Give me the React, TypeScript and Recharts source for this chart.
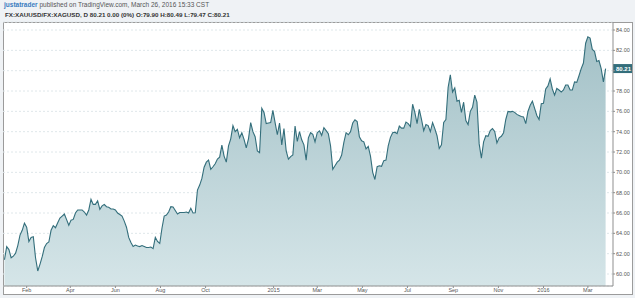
import React from 'react';
import {
  AreaChart,
  Area,
  XAxis,
  YAxis,
  CartesianGrid,
  ReferenceLine
} from 'recharts';

// XAU/XAG ratio, one reading every 3 days from 2 Jan 2014
const ratio2014 = [
  61.4, 62.7, 62.4, 61.6, 61.75, 62.05, 62.8, 63.83, 64.3, 65.0,
  64.6, 63.2, 63.6, 63.67, 61.6, 60.3, 60.95, 61.7, 62.6, 63.0,
  63.15, 64.3, 64.75, 64.55, 65.05, 65.5, 65.7, 65.9, 65.35, 64.8,
  65.3, 65.37, 66.0, 66.3, 66.3, 66.3, 66.1, 65.8, 66.3, 67.35,
  66.85, 66.85, 67.2, 66.36, 66.7, 66.85, 66.62, 66.56, 66.4, 66.4,
  66.3, 66.0, 65.85, 65.7, 65.2, 64.6, 63.6, 63.1, 62.7, 62.85,
  62.75, 62.7, 62.8, 62.7, 62.6, 62.6, 62.65, 62.5, 63.6, 63.2,
  63.0, 64.5, 65.7, 65.8, 66.1, 66.62, 66.6, 66.25, 65.9, 66.05,
  66.05, 66.05, 66.1, 66.0, 66.46, 66.0, 66.03, 68.26, 68.75, 69.4,
  70.5, 71.0, 71.2, 70.3, 70.55, 70.85, 71.3, 71.5, 72.68, 71.6,
  71.0, 72.6, 73.3, 74.6, 74.0, 74.23, 73.4, 73.9, 73.25, 72.4,
  73.3, 74.9, 74.0, 73.5, 72.1, 71.93, 76.3, 75.9, 74.8, 74.85,
  74.9, 76.1
];

const ratio2015 = [
  74.9, 73.7, 74.85, 72.7, 74.3, 72.1, 71.3, 71.55, 71.7, 74.55,
  73.05, 74.0, 73.2, 72.7, 71.2, 73.4, 73.9, 73.75, 73.0, 73.9,
  74.09, 73.64, 74.4, 74.1, 73.8, 72.6, 70.3, 70.65, 71.0, 71.2,
  71.7, 72.95, 73.9, 73.7, 74.0, 74.85, 75.17, 75.0, 73.5, 73.1,
  73.0, 72.3, 72.55, 71.6, 70.0, 69.3, 70.56, 70.65, 70.6, 71.15,
  71.21, 72.6, 73.44, 73.9, 73.95, 73.8, 74.55, 74.35, 74.35, 74.95,
  74.8, 74.5, 76.7, 75.9, 74.8, 76.2, 75.2, 74.1, 74.7, 74.6,
  74.0, 74.9, 74.3, 73.6, 72.35, 72.7, 74.9, 75.2, 78.35, 79.6,
  77.9, 78.3, 77.0, 77.1, 75.9, 76.9, 75.1, 74.7, 76.0, 76.4,
  77.6, 76.9, 72.8, 71.4, 73.0, 73.6, 73.55, 74.1, 74.3, 74.03,
  72.9, 73.4, 73.55, 73.9, 75.2, 76.0, 75.95, 76.0, 75.9, 75.7,
  75.6, 75.5, 75.45, 74.8, 75.99, 76.6, 77.0, 76.3, 75.6, 75.2,
  76.75
];

const ratio2016 = [
  76.8, 78.2, 78.5, 79.2, 78.2, 77.6, 78.25, 78.1, 77.9, 78.1,
  78.6, 78.6, 78.1, 78.1, 78.9, 78.85, 79.5, 80.2, 80.75, 82.7,
  83.33, 83.21, 82.1, 81.9, 80.91, 81.0, 80.2, 78.9, 80.21
];

const lastPrice = 80.21;
const priceTicks = [60, 62, 64, 66, 68, 70, 72, 74, 76, 78, 80, 82, 84];
const timeTickDates = [
  '2014-02-01', '2014-04-01', '2014-06-01', '2014-08-01', '2014-10-01',
  '2015-01-01', '2015-03-01', '2015-05-01', '2015-07-01', '2015-09-01',
  '2015-11-01', '2016-01-01', '2016-03-01'
];
const timeTickLabels = [
  'Feb', 'Apr', 'Jun', 'Aug', 'Oct', '2015', 'Mar', 'May', 'Jul', 'Sep',
  'Nov', '2016', 'Mar'
];

const DAY = 86400000;
const start = Date.UTC(2014, 0, 2);
const stepDays = 3;

const data = [...ratio2014, ...ratio2015, ...ratio2016].map((v, i) => ({
  t: start + i * stepDays * DAY,
  v
}));

const timeTicks = timeTickDates.map((d) => Date.parse(d + 'T00:00:00Z'));
const labelFor = (t: number) => timeTickLabels[timeTicks.indexOf(t)] ?? '';

const font = '"Liberation Sans", Arial, sans-serif';

function PriceTag(props: any) {
  const vb = props.viewBox || {};
  const x = vb.x + vb.width;
  const y = vb.y;
  return (
    <g>
      <rect x={x} y={y - 4.5} width={19} height={9} fill="#336e7b" />
      <text
        x={x + 3}
        y={y}
        dy="0.35em"
        fontSize={6}
        fontWeight="bold"
        fill="#fff"
        fontFamily={font}
      >
        {lastPrice.toFixed(2)}
      </text>
    </g>
  );
}

export default function App() {
  return (
    <div
      style={{
        position: 'absolute',
        left: 0,
        top: 0,
        width: 635,
        height: 298,
        background: '#eff2f5',
        fontFamily: font,
        overflow: 'hidden'
      }}
    >
      <div style={{ position: 'absolute', left: 4, top: 1, fontSize: 6.5, color: '#555', whiteSpace: 'nowrap' }}>
        <span style={{ color: '#3a7cc0', fontWeight: 'bold' }}>justatrader</span> published on
        TradingView.com, March 26, 2016 15:33 CST
      </div>
      <div
        style={{
          position: 'absolute',
          left: 5,
          top: 10.5,
          fontSize: 6.25,
          color: '#333',
          fontWeight: 'bold',
          whiteSpace: 'nowrap'
        }}
      >
        FX:XAUUSD/FX:XAGUSD, D 80.21 0.00 (0%) O:79.90 H:80.49 L:79.47 C:80.21
      </div>
      <div
        style={{
          position: 'absolute',
          left: 3,
          top: 22,
          width: 630,
          height: 273,
          boxSizing: 'border-box',
          border: '1px solid #9b9b9b',
          background: '#fff'
        }}
      />
      <div style={{ position: 'absolute', left: 0, top: 0 }}>
        <AreaChart
          width={635}
          height={298}
          data={data}
          margin={{ top: 22, right: 3, bottom: 4, left: 3 }}
        >
          <defs>
            <linearGradient id="ratioFill" x1="0" y1="0" x2="0" y2="1">
              <stop offset="0%" stopColor="#a3c1c7" />
              <stop offset="100%" stopColor="#d5e5e8" />
            </linearGradient>
          </defs>
          <CartesianGrid
            vertical={false}
            stroke="#dfe7ea"
            strokeDasharray="2 2"
          />
          <XAxis
            dataKey="t"
            type="number"
            domain={[start - 2 * DAY, start + 823 * DAY]}
            ticks={timeTicks}
            tickFormatter={labelFor}
            allowDataOverflow
            height={8}
            tickSize={2}
            tickMargin={0}
            interval={0}
            stroke="#8f8f8f"
            tick={{ fontSize: 5.5, fill: '#555', fontFamily: font }}
          />
          <YAxis
            orientation="right"
            width={19}
            domain={[58.82, 84.79]}
            ticks={priceTicks}
            allowDataOverflow
            interval={0}
            tickSize={2}
            tickMargin={1}
            stroke="#8f8f8f"
            tickFormatter={(v: number) => (v === 80 ? '' : v.toFixed(2))}
            tick={{ fontSize: 5.5, fill: '#555', fontFamily: font, textAnchor: 'start' }}
          />
          <Area
            type="linear"
            dataKey="v"
            stroke="#336e7b"
            strokeWidth={1.1}
            fill="url(#ratioFill)"
            fillOpacity={1}
            dot={false}
            activeDot={false}
            isAnimationActive={false}
          />
          <ReferenceLine
            y={lastPrice}
            stroke="none"
            strokeOpacity={0}
            label={(p: any) => <PriceTag {...p} />}
          />
        </AreaChart>
      </div>
    </div>
  );
}
